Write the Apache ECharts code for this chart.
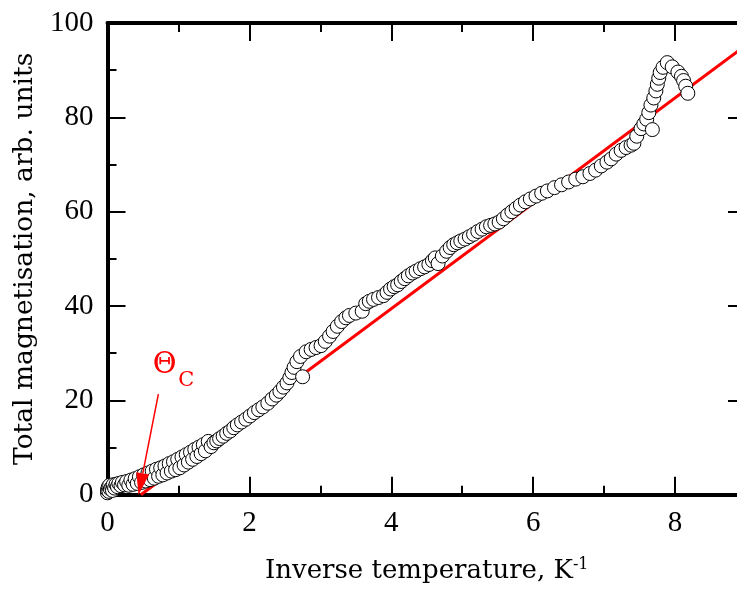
<!DOCTYPE html>
<html><head><meta charset="utf-8">
<script src="https://cdn.jsdelivr.net/npm/echarts@6/dist/echarts.min.js"></script>
<style>html,body{margin:0;padding:0;background:#fff}#c{width:737px;height:590px}</style>
</head><body><div id="c"></div>
<script>
// Measured data (inverse temperature, total magnetisation)
const xValues = [
  0.00,0.00,0.01,0.02,0.03,0.04,0.06,0.07,0.08,0.10,0.12,0.14,0.16,0.19,0.21,0.24,0.27,
  0.30,0.33,0.36,0.39,0.42,0.45,0.48,0.51,0.54,0.57,0.60,0.63,0.66,0.69,0.72,0.75,0.78,0.81,
  0.84,0.87,0.90,0.93,0.96,0.99,1.02,1.05,1.08,1.11,1.14,1.17,1.20,1.23,1.26,1.29,1.32,1.35,
  1.38,1.42,1.46,1.50,1.54,1.58,1.63,1.68,1.73,1.78,1.83,1.89,1.95,2.01,2.07,2.13,2.19,2.26,
  2.32,2.38,2.43,2.48,2.53,2.57,2.60,2.63,2.67,2.72,2.75,2.80,2.87,2.94,3.01,3.07,3.13,3.18,
  3.24,3.30,3.36,3.41,3.50,3.59,3.64,3.69,3.75,3.82,3.89,3.94,3.99,4.04,4.09,4.14,4.19,4.24,
  4.30,4.35,4.41,4.47,4.53,4.58,4.62,4.66,4.72,4.78,4.83,4.88,4.93,4.98,5.04,5.10,5.16,5.22,
  5.28,5.34,5.40,5.46,5.52,5.58,5.64,5.70,5.76,5.82,5.89,5.96,6.04,6.12,6.20,6.30,6.40,6.50,
  6.60,6.70,6.80,6.88,6.96,7.04,7.10,7.17,7.24,7.31,7.38,7.42,7.46,7.52,7.56,7.60,7.63,7.66,
  7.68,7.70,7.73,7.75,7.77,7.79,7.83,7.89,7.96,8.04,8.09,8.12,8.15,8.18
];
const yValues = [
  0.4,1.0,1.6,0.7,2.0,1.2,1.6,0.9,2.1,1.4,2.2,1.7,2.4,1.9,2.6,2.1,2.8,
  2.0,3.1,2.2,3.4,2.4,3.8,2.6,4.2,2.9,4.6,3.2,5.0,3.5,5.4,3.9,5.7,4.2,6.1,
  4.6,6.6,5.0,7.0,5.3,7.5,5.7,8.0,6.3,8.5,6.9,9.0,7.5,9.6,8.1,10.1,8.7,10.6,
  9.3,11.3,10.2,11.0,11.4,11.9,12.4,13.0,13.5,14.2,14.8,15.4,16.0,16.7,17.4,18.0,18.6,19.4,
  20.3,21.1,21.9,22.8,23.7,24.8,25.9,27.0,28.2,29.3,25.0,30.3,30.8,31.2,31.6,32.5,33.6,34.6,
  35.7,36.7,37.5,38.0,38.5,38.9,40.5,41.0,41.4,41.8,42.2,42.9,43.6,44.1,44.5,45.2,45.8,46.4,
  47.0,47.4,47.9,48.3,48.8,49.6,50.2,49.0,50.6,51.6,52.4,53.0,53.4,53.8,54.2,54.7,55.2,55.8,
  56.3,56.8,57.1,57.4,57.8,58.5,59.3,60.0,60.7,61.4,62.1,62.7,63.3,63.9,64.4,65.1,65.7,66.3,
  66.9,67.4,68.1,68.8,69.7,70.5,71.2,72.2,73.0,73.6,74.1,74.5,76.0,77.6,78.6,79.6,81.0,82.6,
  77.4,84.1,85.6,87.0,88.3,89.5,90.6,91.6,90.7,89.6,88.7,87.8,86.6,85.1
];
// Linear fit line (Curie point extrapolation)
const fitX = [0.47, 9.0];
const fitY = [0, 95.3];
// Tick labels
const xTickLabels = [0, 2, 4, 6, 8];
const yTickLabels = [0, 20, 40, 60, 80, 100];
// Annotation: arrow (start, head) and label positions in data units
const arrowStart = [0.717, 21.3];
const arrowBase = [0.497, 4.5];
const arrowHead = [0.467, 2.23];
const thetaPos = [0.807, 27.5];
const subPos = [1.11, 24.2];

const RED = '#ff0000';
const tickFont = {fontFamily: 'Liberation Serif', fontSize: 29, color: '#000'};
const axisCommon = {
  axisLine: {show: true, onZero: false, lineStyle: {color: '#000', width: 4}},
  axisTick: {show: true, inside: true, length: 18, lineStyle: {color: '#000', width: 2}},
  minorTick: {show: true, splitNumber: 2, length: 9, lineStyle: {color: '#000', width: 2}},
  splitLine: {show: false},
  minorSplitLine: {show: false}
};
const nameStyle = {
  fontFamily: 'DejaVu Serif', fontSize: 26, color: '#000',
  rich: {
    m: {fontFamily: 'DejaVu Serif', fontSize: 26, lineHeight: 30, color: '#000'},
    s: {fontFamily: 'DejaVu Serif', fontSize: 16, lineHeight: 16, verticalAlign: 'top', color: '#000'}
  }
};

const chart = echarts.init(document.getElementById('c'), null, {renderer: 'canvas'});
chart.setOption({
  animation: false,
  backgroundColor: '#fff',
  grid: {left: 107.5, right: -9, top: 23, bottom: 95.3, containLabel: false, outerBoundsMode: 'none'},
  xAxis: [
    Object.assign({
      type: 'value', min: 0, max: 9, interval: 2, position: 'bottom',
      axisLabel: Object.assign({margin: 14, formatter: v => xTickLabels.includes(v) ? String(v) : ''}, tickFont),
      name: '{m|Inverse temperature, K}{s|-1}', nameLocation: 'middle', nameGap: 62,
      nameTextStyle: nameStyle
    }, axisCommon),
    Object.assign({
      type: 'value', min: 0, max: 9, interval: 2, position: 'top',
      axisLabel: {show: false}
    }, axisCommon)
  ],
  yAxis: [
    Object.assign({
      type: 'value', min: 0, max: 100, interval: 20, position: 'left',
      axisLabel: Object.assign({margin: 14, formatter: v => yTickLabels.includes(v) ? String(v) : ''}, tickFont),
      name: 'Total magnetisation, arb. units', nameLocation: 'middle', nameGap: 60,
      nameTextStyle: {fontFamily: 'DejaVu Serif', fontSize: 26.5, color: '#000'}
    }, axisCommon),
    Object.assign({
      type: 'value', min: 0, max: 100, interval: 20, position: 'right',
      axisLabel: {show: false}
    }, axisCommon)
  ],
  series: [
    {
      type: 'line', xAxisIndex: 0, yAxisIndex: 0, z: 2, silent: true,
      data: fitX.map((x, i) => [x, fitY[i]]),
      symbol: 'none', lineStyle: {color: RED, width: 3}
    },
    {
      type: 'scatter', xAxisIndex: 0, yAxisIndex: 0, z: 3, silent: true,
      data: xValues.map((x, i) => [x, yValues[i]]),
      symbol: 'circle', symbolSize: 14,
      itemStyle: {color: '#fff', borderColor: '#000', borderWidth: 1, opacity: 1}
    },
    {
      type: 'scatter', xAxisIndex: 0, yAxisIndex: 0, z: 5, silent: true,
      data: [],
      markLine: {
        silent: true, symbol: ['none', 'none'], animation: false,
        label: {show: false},
        lineStyle: {color: RED, width: 1.5, type: 'solid'},
        data: [[{coord: arrowStart}, {coord: arrowBase}]]
      },
      markPoint: {
        silent: true, animation: false,
        data: [
          {coord: arrowHead, symbol: 'triangle', symbolSize: [13, 22], symbolRotate: 169,
           itemStyle: {color: RED}, label: {show: false}},
          {coord: thetaPos, symbol: 'circle', symbolSize: 0,
           label: {show: true, position: 'inside', formatter: 'Θ', fontFamily: 'DejaVu Serif', fontSize: 29, color: RED}},
          {coord: subPos, symbol: 'circle', symbolSize: 0,
           label: {show: true, position: 'inside', formatter: 'C', fontFamily: 'DejaVu Serif', fontSize: 21, color: RED}}
        ]
      }
    }
  ]
});
</script>
</body></html>
